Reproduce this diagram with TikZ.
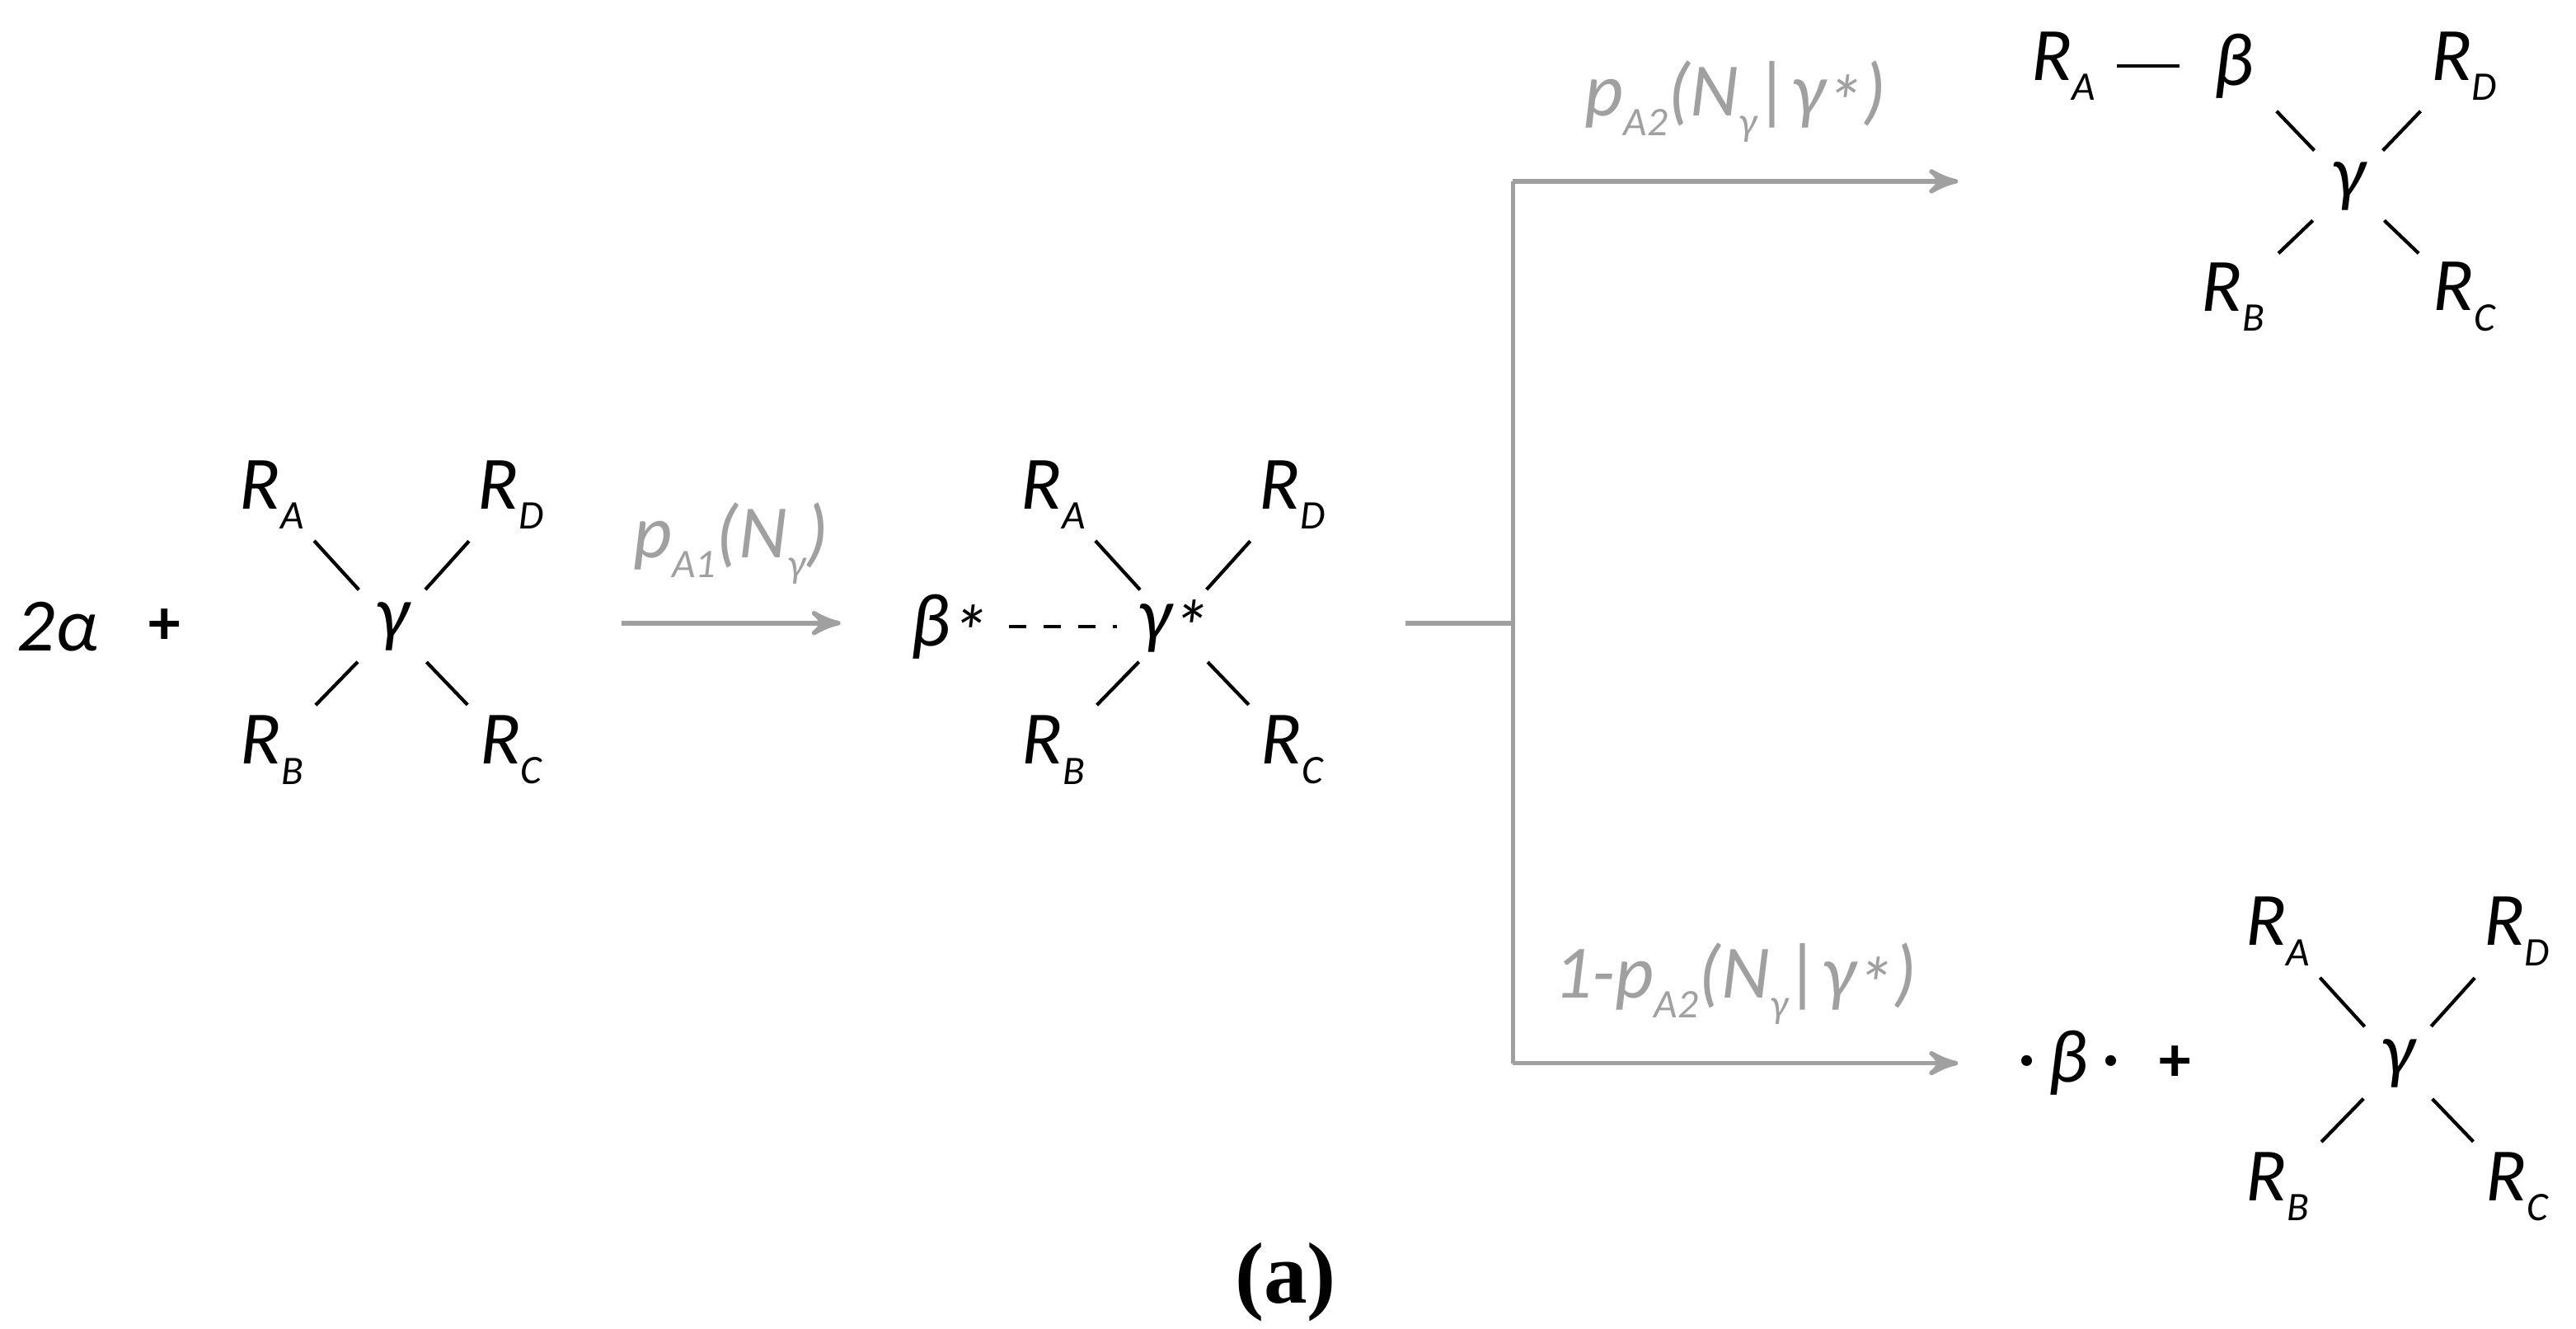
\documentclass[tikz,border=0pt]{standalone}
\usepackage{fontspec}
\setmainfont{Carlito}
\newfontfamily\capfont{Liberation Serif}
\usetikzlibrary{arrows}
\definecolor{arrowgray}{RGB}{160,160,160}
\newcommand\sub[1]{\raisebox{-0.55ex}{\scriptsize #1}}
\newcommand\Rg[1]{\textit{R}\sub{\textit{#1}}}
\newcommand\st{\raisebox{-0.35ex}{*}}
% one centre atom with four groups
\newcommand\molec[4]{%
  \node[atom] (#1g) at (#2,#3) {#4};
  \node[atom] (#1a) at (#2-73,#3-80) {\Rg{A}};
  \node[atom] (#1d) at (#2+72,#3-80) {\Rg{D}};
  \node[atom] (#1b) at (#2-73,#3+75) {\Rg{B}};
  \node[atom] (#1c) at (#2+72,#3+75) {\Rg{C}};
  \draw[bond] (#1a.center) -- (#1g.center);
  \draw[bond] (#1d.center) -- (#1g.center);
  \draw[bond] (#1b.center) -- (#1g.center);
  \draw[bond] (#1c.center) -- (#1g.center);
}
\begin{document}
\begin{tikzpicture}[
  x=0.01cm,y=-0.01cm,
  font=\fontsize{13}{15}\selectfont\itshape,
  atom/.style={inner sep=0pt},
  plus/.style={inner sep=0pt,font=\fontsize{11}{13}\selectfont\bfseries},
  bond/.style={semithick,shorten <=0.38cm,shorten >=0.3cm},
  reaction/.style={->,>=stealth',thick,arrowgray},
  branch/.style={thick,arrowgray},
  rate/.style={text=arrowgray,above=3pt}]
  \useasboundingbox (0,0) rectangle (1563,806);

  % reactants
  \node[atom] (alpha) at (35,380) {2\textit{α}};
  \node[plus] (plus1) at (100,380) {+};
  \molec{m1}{238}{380}{\textit{γ}}

  % first step
  \coordinate (s1) at (377,378);
  \coordinate (e1) at (510,378);
  \draw[reaction] (s1) -- node[rate] {\textit{p}\sub{A1}(\textit{N}\sub{\textit{γ}})} (e1);

  % intermediate
  \molec{m2}{712}{380}{\textit{γ}\st}
  \node[atom] (bstar) at (576,380) {\textit{β}\st};
  \draw[semithick,dashed,shorten <=0.12cm,shorten >=0.12cm] (bstar) -- (m2g);

  % branching
  \coordinate (fork0) at (853,378);
  \coordinate (fork) at (918,378);
  \coordinate (up) at (918,110);
  \coordinate (dn) at (918,645);
  \coordinate (upE) at (1188,110);
  \coordinate (dnE) at (1188,645);
  \draw[branch] (fork0) -- (fork) (up) -- (dn);
  \draw[reaction] (up) -- node[rate] {\textit{p}\sub{A2}(\textit{N}\sub{\textit{γ}}|\textit{γ}\st)} (upE);
  \draw[reaction] (dn) -- node[rate] {1-\textit{p}\sub{A2}(\textit{N}\sub{\textit{γ}}|\textit{γ}\st)} (dnE);

  % product, top
  \node[atom] (p1g) at (1425,113) {\textit{γ}};
  \node[atom] (p1beta) at (1355,40) {\textit{β}};
  \node[atom] (p1a) at (1252,40) {\Rg{A}};
  \node[atom] (p1d) at (1495,40) {\Rg{D}};
  \node[atom] (p1b) at (1355,180) {\Rg{B}};
  \node[atom] (p1c) at (1495,180) {\Rg{C}};
  \draw[semithick,shorten <=0.12cm,shorten >=0.2cm] (p1a) -- (p1beta);
  \draw[bond] (p1beta.center) -- (p1g.center);
  \draw[bond] (p1d.center) -- (p1g.center);
  \draw[bond] (p1b.center) -- (p1g.center);
  \draw[bond] (p1c.center) -- (p1g.center);

  % products, bottom
  \node[atom] (radical) at (1255,645) {·\,\textit{β}\,·};
  \node[plus] (plus2) at (1320,645) {+};
  \molec{p2}{1455}{645}{\textit{γ}}

  \node[font=\fontsize{15}{17}\selectfont\capfont\bfseries] (cap) at (780,778) {(a)};
\end{tikzpicture}
\end{document}
